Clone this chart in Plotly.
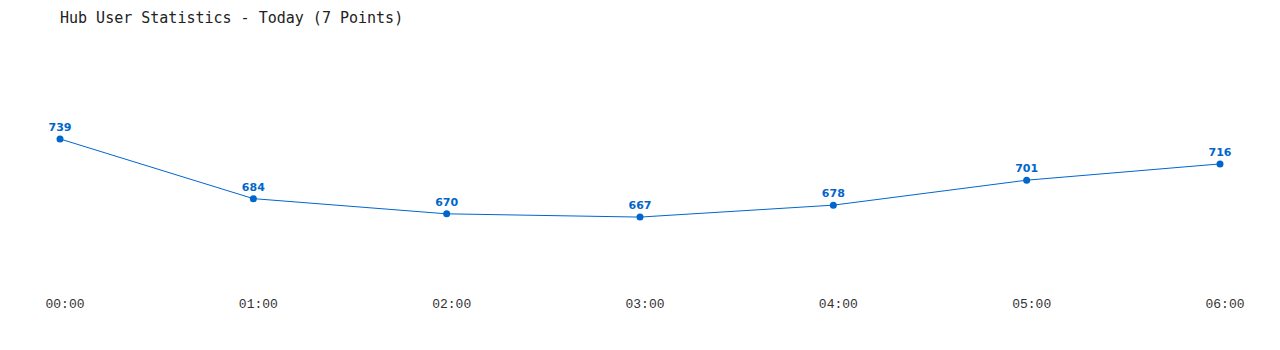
import plotly.graph_objects as go

hours = ["00:00", "01:00", "02:00", "03:00", "04:00", "05:00", "06:00"]
users = [739, 684, 670, 667, 678, 701, 716]
title_text = "Hub User Statistics - Today (7 Points)"

blue = "#0066cc"
x_idx = list(range(len(hours)))

fig = go.Figure()
fig.add_trace(go.Scatter(
    x=x_idx, y=users,
    mode="lines+markers+text",
    line=dict(color=blue, width=1),
    marker=dict(color=blue, size=7),
    text=[str(v) for v in users],
    textposition="top center",
    textfont=dict(family="DejaVu Sans", size=11, color=blue, weight="bold"),
    cliponaxis=False,
    hoverinfo="skip",
))

fig.update_layout(
    width=1280, height=350,
    margin=dict(l=60, r=60, t=40, b=60),
    paper_bgcolor="white", plot_bgcolor="white",
    showlegend=False,
    title=dict(text=title_text, x=60/1280, xanchor="left", y=1-18/350, yanchor="middle",
               font=dict(family="DejaVu Sans Mono", size=15, color="#222")),
    xaxis=dict(range=[0, 6], tickvals=x_idx, ticktext=hours, showgrid=False, zeroline=False,
               showline=False, ticks="", ticklabelshift=5, ticklabelstandoff=4,
               tickfont=dict(family="Liberation Mono", size=13, color="#333")),
    yaxis=dict(range=[599.8, 830.2], visible=False, showgrid=False, zeroline=False),
)

fig.write_html("out.html")
